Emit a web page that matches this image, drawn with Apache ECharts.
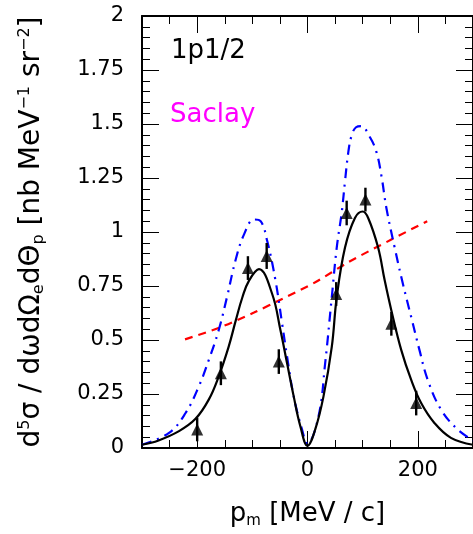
<!DOCTYPE html>
<html>
<head>
<meta charset="utf-8">
<script src="https://cdn.jsdelivr.net/npm/echarts@6/dist/echarts.min.js"></script>
<style>
  html, body { margin: 0; padding: 0; background: #fff; }
  #chart { width: 473px; height: 534px; }
</style>
</head>
<body>
<div id="chart"></div>
<script>
// solid black model curve
var solidX = [-300, -270, -233, -203, -179, -161, -143, -130, -118, -106, -88, -64, -49, -37, -25, -13, 0, 14, 29, 44, 53, 68, 86, 100, 110, 128, 140, 152, 170, 188, 206, 230, 260, 300];
var solidY = [0.015, 0.035, 0.078, 0.135, 0.224, 0.331, 0.468, 0.591, 0.698, 0.775, 0.828, 0.713, 0.545, 0.392, 0.239, 0.101, 0.01, 0.086, 0.239, 0.468, 0.698, 0.928, 1.065, 1.095, 1.065, 0.928, 0.775, 0.637, 0.453, 0.315, 0.208, 0.116, 0.047, 0.015];

// blue dash-dot curve
var blueX = [-300, -251, -221, -197, -179, -161, -146, -130, -115, -97, -85, -73, -58, -46, -37, -25, -10, 0, 20, 32, 44, 53, 62, 68, 74, 80, 88, 97, 113, 125, 134, 143, 158, 173, 188, 203, 218, 242, 272, 300];
var blueY = [0.015, 0.07, 0.162, 0.285, 0.407, 0.545, 0.698, 0.874, 0.989, 1.058, 1.05, 0.958, 0.775, 0.575, 0.423, 0.239, 0.086, 0.02, 0.147, 0.392, 0.698, 0.928, 1.09, 1.235, 1.37, 1.447, 1.485, 1.49, 1.44, 1.37, 1.26, 1.111, 0.928, 0.759, 0.606, 0.453, 0.315, 0.178, 0.086, 0.035];

// red dashed curve
var redX = [-222, -160, -97, -46, 14, 74, 152, 217];
var redY = [0.503, 0.557, 0.627, 0.69, 0.767, 0.86, 0.965, 1.05];

// Saclay data
var dataX = [-200, -157, -108, -74, -52, 52, 71, 105, 152, 197];
var dataY = [0.086, 0.346, 0.833, 0.889, 0.40, 0.713, 1.088, 1.15, 0.575, 0.208];
var dataErr = [0.055, 0.055, 0.055, 0.06, 0.057, 0.055, 0.057, 0.055, 0.055, 0.057];

var xMajor = [-200, 0, 200];

function pairs(xs, ys) {
  return xs.map(function (x, i) { return [x, ys[i]]; });
}

var font = 'DejaVu Sans';
var chart = echarts.init(document.getElementById('chart'));

var xBase = {
  type: 'value', min: -300, max: 300, interval: 50,
  splitLine: { show: false }
};
function xAxisDef(pos, major, labels) {
  var a = Object.assign({}, xBase, { position: pos });
  a.axisLine = { show: !major, onZero: false, lineStyle: { color: '#000', width: 2 } };
  a.axisTick = major
    ? { inside: true, length: 17, customValues: xMajor, lineStyle: { color: '#000', width: 1 } }
    : { inside: true, length: 8, lineStyle: { color: '#000', width: 1 } };
  a.axisLabel = labels
    ? { customValues: xMajor, margin: 12, color: '#000', fontSize: 21, fontFamily: font,
        formatter: function (v) { return String(v).replace('-', '\u2212'); } }
    : { show: false };
  return a;
}

function yAxisDef(pos, labels) {
  return {
    type: 'value', position: pos, min: 0, max: 2, interval: 0.25,
    splitLine: { show: false },
    axisLine: { show: true, onZero: false, lineStyle: { color: '#000', width: 2 } },
    axisTick: { inside: true, length: 17, lineStyle: { color: '#000', width: 1 } },
    minorTick: { show: true, splitNumber: 5, length: 8, lineStyle: { color: '#000', width: 1 } },
    axisLabel: labels ? { margin: 18, color: '#000', fontSize: 21, fontFamily: font } : { show: false }
  };
}

var xa = xAxisDef('bottom', false, true);
xa.name = '{n|p}{sub|m}{n| [MeV / c]}';
xa.nameLocation = 'middle';
xa.nameGap = 51;
xa.nameTextStyle = {
  color: '#000', fontFamily: font,
  rich: {
    n: { fontSize: 26, lineHeight: 30, fontFamily: font, color: '#000' },
    sub: { fontSize: 15, lineHeight: 20, verticalAlign: 'bottom', fontFamily: font, color: '#000' }
  }
};

var ya = yAxisDef('left', true);
ya.name = '{n|d}{sup|5}{n|\u03c3 / d\u03c9d\u03a9}{sub|e}{n|d\u0398}{sub|p}{n| [nb MeV}{sup|\u22121}{n| sr}{sup|\u22122}{n|]}';
ya.nameLocation = 'middle';
ya.nameGap = 95;
ya.nameTextStyle = {
  color: '#000', fontFamily: font,
  rich: {
    n: { fontSize: 28, lineHeight: 30, fontFamily: font, color: '#000' },
    sup: { fontSize: 16, lineHeight: 30, verticalAlign: 'top', fontFamily: font, color: '#000' },
    sub: { fontSize: 16, lineHeight: 20, verticalAlign: 'bottom', fontFamily: font, color: '#000' }
  }
};

var option = {
  animation: false,
  grid: { left: 142, top: 16, width: 333, height: 436 },
  xAxis: [
    xa,
    xAxisDef('bottom', true, false),
    xAxisDef('top', false, false),
    xAxisDef('top', true, false)
  ],
  yAxis: [ya, yAxisDef('right', false)],
  graphic: [
    { type: 'text', left: 171, top: 38, style: { text: '1p1/2', fill: '#000', font: '26px "DejaVu Sans"' } },
    { type: 'text', left: 170, top: 102, style: { text: 'Saclay', fill: '#ff00ff', font: '26px "DejaVu Sans"' } }
  ],
  series: [
    {
      type: 'line', data: pairs(redX, redY), symbol: 'none', smooth: 0.3,
      lineStyle: { color: '#ff0000', width: 2.2, type: [8, 6] }
    },
    {
      type: 'line', data: pairs(blueX, blueY), symbol: 'none', smooth: 0.4,
      lineStyle: { color: '#0000ff', width: 2.2, type: [10, 6, 2, 6] }
    },
    {
      type: 'line', data: pairs(solidX, solidY), symbol: 'none', smooth: 0.4,
      lineStyle: { color: '#000', width: 2.2 }
    },
    {
      type: 'custom',
      data: dataX.map(function (x, i) { return [x, dataY[i], dataErr[i]]; }),
      renderItem: function (params, api) {
        var x = api.value(0), y = api.value(1), e = api.value(2);
        var lo = api.coord([x, y - e]);
        var hi = api.coord([x, y + e]);
        return {
          type: 'line',
          shape: { x1: lo[0], y1: lo[1], x2: hi[0], y2: hi[1] },
          style: { stroke: '#000', lineWidth: 2.4 }
        };
      },
      z: 5
    },
    {
      type: 'scatter', data: pairs(dataX, dataY), symbol: 'triangle', symbolSize: [12, 12],
      itemStyle: { color: '#000' }, z: 6
    }
  ]
};
chart.setOption(option);
window.addEventListener('resize', function () { chart.resize(); });
</script>
</body>
</html>
